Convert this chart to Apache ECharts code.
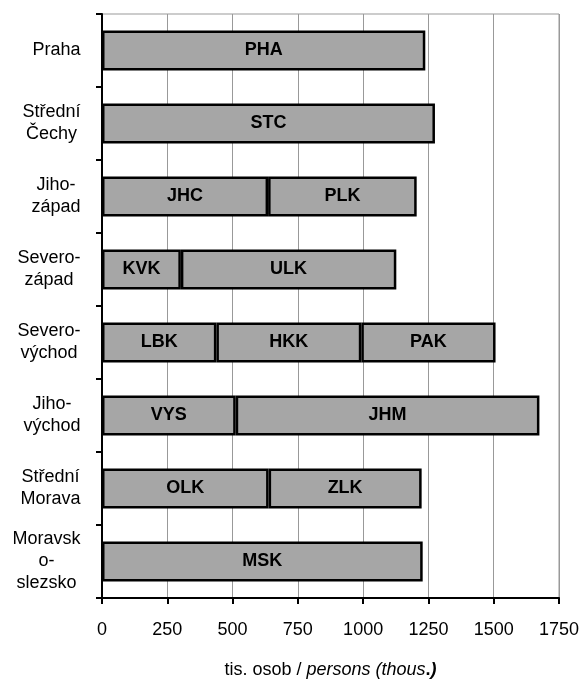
<!DOCTYPE html>
<html><head><meta charset="utf-8">
<script src="https://cdn.jsdelivr.net/npm/echarts@6/dist/echarts.min.js"></script>
<style>html,body{margin:0;padding:0;background:#fff}#c{width:584px;height:680px}</style>
</head><body><div id="c"></div>
<script>
const categories = ['Praha', 'Střední\nČechy', 'Jiho-\nzápad', 'Severo-\nzápad', 'Severo-\nvýchod', 'Jiho-\nvýchod', 'Střední\nMorava', 'Moravsk\no-\nslezsko'];
const seg1Values = [1238, 1275, 636, 302, 438, 512, 638, 1228];
const seg1Labels = ['PHA', 'STC', 'JHC', 'KVK', 'LBK', 'VYS', 'OLK', 'MSK'];
const seg2Values = [null, null, 569, 825, 555, 1163, 586, null];
const seg2Labels = ['', '', 'PLK', 'ULK', 'HKK', 'JHM', 'ZLK', ''];
const seg3Values = [null, null, null, null, 514, null, null, null];
const seg3Labels = ['', '', '', '', 'PAK', '', '', ''];
const xTicks = [0, 250, 500, 750, 1000, 1250, 1500, 1750];

const FONT = '"Liberation Sans", Arial, sans-serif';
const cv = document.createElement('canvas').getContext('2d');
cv.font = '18px ' + FONT;
const rich = {};
categories.forEach((c, i) => {
  const w = Math.max(...c.split('\n').map(s => cv.measureText(s).width));
  rich['c' + i] = { width: Math.ceil(w), align: 'center', fontSize: 18, fontFamily: FONT, color: '#000', lineHeight: 22 };
});

function mkSeries(vals, labels) {
  return {
    type: 'bar', stack: 'a', barWidth: 40,
    data: vals,
    itemStyle: { color: '#a6a6a6', borderColor: '#000', borderWidth: 2.5 },
    label: {
      show: true, position: 'inside', color: '#000', fontWeight: 'bold',
      fontSize: 18, fontFamily: FONT,
      formatter: p => labels[p.dataIndex]
    },
    emphasis: { disabled: true }
  };
}

const chart = echarts.init(document.getElementById('c'));
chart.setOption({
  animation: false,
  grid: { left: 102, right: 25, top: 14, bottom: 82, show: true, borderColor: '#999', borderWidth: 1,
          containLabel: false, outerBoundsMode: 'none' },
  xAxis: {
    type: 'value', min: 0, max: 1750, interval: 250,
    axisLine: { show: true, lineStyle: { color: '#000', width: 2 } },
    axisTick: { show: true, length: 6, lineStyle: { color: '#000', width: 2 } },
    splitLine: { show: true, lineStyle: { color: '#999', width: 1 } },
    axisLabel: { color: '#000', fontSize: 18, fontFamily: FONT, margin: 23,
      formatter: v => xTicks.includes(v) ? String(v) : '' },
    name: '{n|tis. osob / }{i|persons (thous}{b|.}{bi|)}',
    nameLocation: 'middle', nameGap: 63,
    nameTextStyle: {
      rich: {
        n: { fontSize: 18, fontFamily: FONT, color: '#000' },
        i: { fontSize: 18, fontFamily: FONT, color: '#000', fontStyle: 'italic' },
        b: { fontSize: 18, fontFamily: FONT, color: '#000', fontWeight: 'bold' },
        bi: { fontSize: 18, fontFamily: FONT, color: '#000', fontWeight: 'bold', fontStyle: 'italic' }
      }
    }
  },
  yAxis: {
    type: 'category', data: categories, inverse: true,
    axisLine: { show: true, lineStyle: { color: '#000', width: 2 } },
    axisTick: { show: true, length: 6, lineStyle: { color: '#000', width: 2 } },
    splitLine: { show: false },
    axisLabel: {
      margin: 21, fontSize: 18, fontFamily: FONT, color: '#000', lineHeight: 22,
      formatter: (v, i) => v.split('\n').map(s => '{c' + i + '|' + s + '}').join('\n'),
      rich: rich
    }
  },
  series: [mkSeries(seg1Values, seg1Labels), mkSeries(seg2Values, seg2Labels), mkSeries(seg3Values, seg3Labels)]
});
</script></body></html>
